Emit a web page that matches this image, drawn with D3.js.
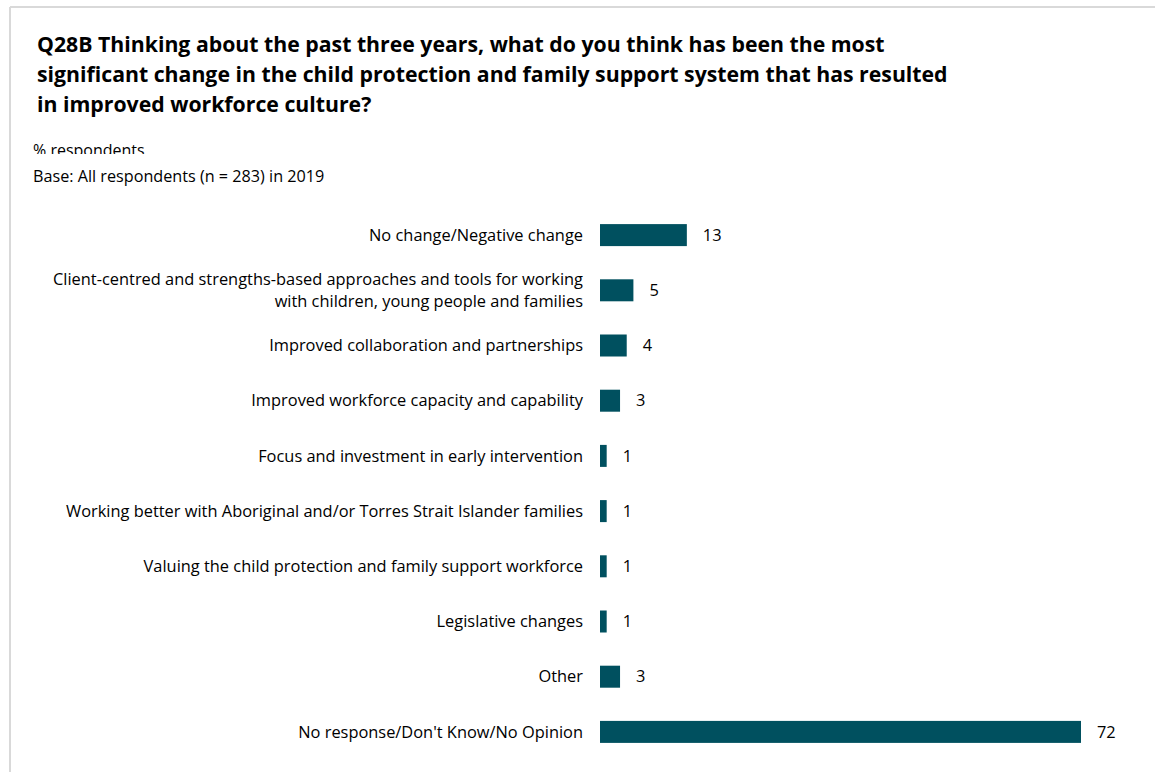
<!DOCTYPE html>
<html>
<head>
<meta charset="utf-8">
<script src="https://cdn.jsdelivr.net/npm/d3@7"></script>
<style>
  html, body { margin: 0; padding: 0; background: #fff; }
  svg { display: block; }
  text { font-family: "Open Sans", Lato, sans-serif; fill: #000; }
</style>
</head>
<body>
<svg id="chart" width="1155" height="772"></svg>
<script>
// Survey responses, % of respondents
const categories = [
  ["No change/Negative change"],
  ["Client-centred and strengths-based approaches and tools for working", "with children, young people and families"],
  ["Improved collaboration and partnerships"],
  ["Improved workforce capacity and capability"],
  ["Focus and investment in early intervention"],
  ["Working better with Aboriginal and/or Torres Strait Islander families"],
  ["Valuing the child protection and family support workforce"],
  ["Legislative changes"],
  ["Other"],
  ["No response/Don't Know/No Opinion"]
];
const values = [13, 5, 4, 3, 1, 1, 1, 1, 3, 72];

const titleLines = [
  "Q28B Thinking about the past three years, what do you think has been the most",
  "significant change in the child protection and family support system that has resulted",
  "in improved workforce culture?"
];
const unitLabel = "% respondents";
const baseLabel = "Base: All respondents (n = 283) in 2019";

const svg = d3.select("#chart");
const W = 1155, H = 772;

// frame lines (top and left)
svg.append("line").attr("x1", 10).attr("x2", W).attr("y1", 7).attr("y2", 7)
  .attr("stroke", "#d9d9d9").attr("stroke-width", 2);
svg.append("line").attr("x1", 10).attr("x2", 10).attr("y1", 7).attr("y2", H)
  .attr("stroke", "#d9d9d9").attr("stroke-width", 2);

// title
svg.append("g").selectAll("text").data(titleLines).join("text")
  .attr("x", 37).attr("y", (d, i) => 52 + i * 30)
  .style("font-weight", "bold").style("font-size", "21.25px")
  .text(d => d);

// subtitle, clipped at the bottom
svg.append("clipPath").attr("id", "subclip")
  .append("rect").attr("x", 0).attr("y", 130).attr("width", 400).attr("height", 24);
svg.append("text").attr("x", 33).attr("y", 156).attr("clip-path", "url(#subclip)")
  .style("font-size", "16px").text(unitLabel);
svg.append("text").attr("x", 33).attr("y", 182)
  .style("font-size", "16.2px").text(baseLabel);

// scales
const x = d3.scaleLinear().domain([0, 72]).range([600, 1081]);
const y = d3.scaleBand().domain(d3.range(values.length)).range([207.5, 759.5]).paddingInner(0.6).paddingOuter(0.3);

const g = svg.append("g");
const rows = g.selectAll("g.row").data(values).join("g").attr("class", "row");

rows.append("rect")
  .attr("x", x(0))
  .attr("y", (d, i) => y(i) + y.bandwidth() / 2 - 11)
  .attr("width", d => x(d) - x(0))
  .attr("height", 22)
  .attr("fill", "#00505f");

rows.append("text")
  .attr("x", d => x(d) + 16)
  .attr("y", (d, i) => y(i) + y.bandwidth() / 2)
  .attr("dy", "0.35em")
  .style("font-size", "16.4px")
  .text(d => d);

// category labels, right aligned
rows.each(function(d, i) {
  const lines = categories[i];
  const cy = y(i) + y.bandwidth() / 2;
  const lh = 22;
  d3.select(this).selectAll("text.cat").data(lines).join("text")
    .attr("class", "cat")
    .attr("x", 583)
    .attr("y", (t, j) => cy + (j - (lines.length - 1) / 2) * lh)
    .attr("dy", "0.35em")
    .attr("text-anchor", "end")
    .style("font-size", "16.4px")
    .text(t => t);
});
</script>
</body>
</html>
